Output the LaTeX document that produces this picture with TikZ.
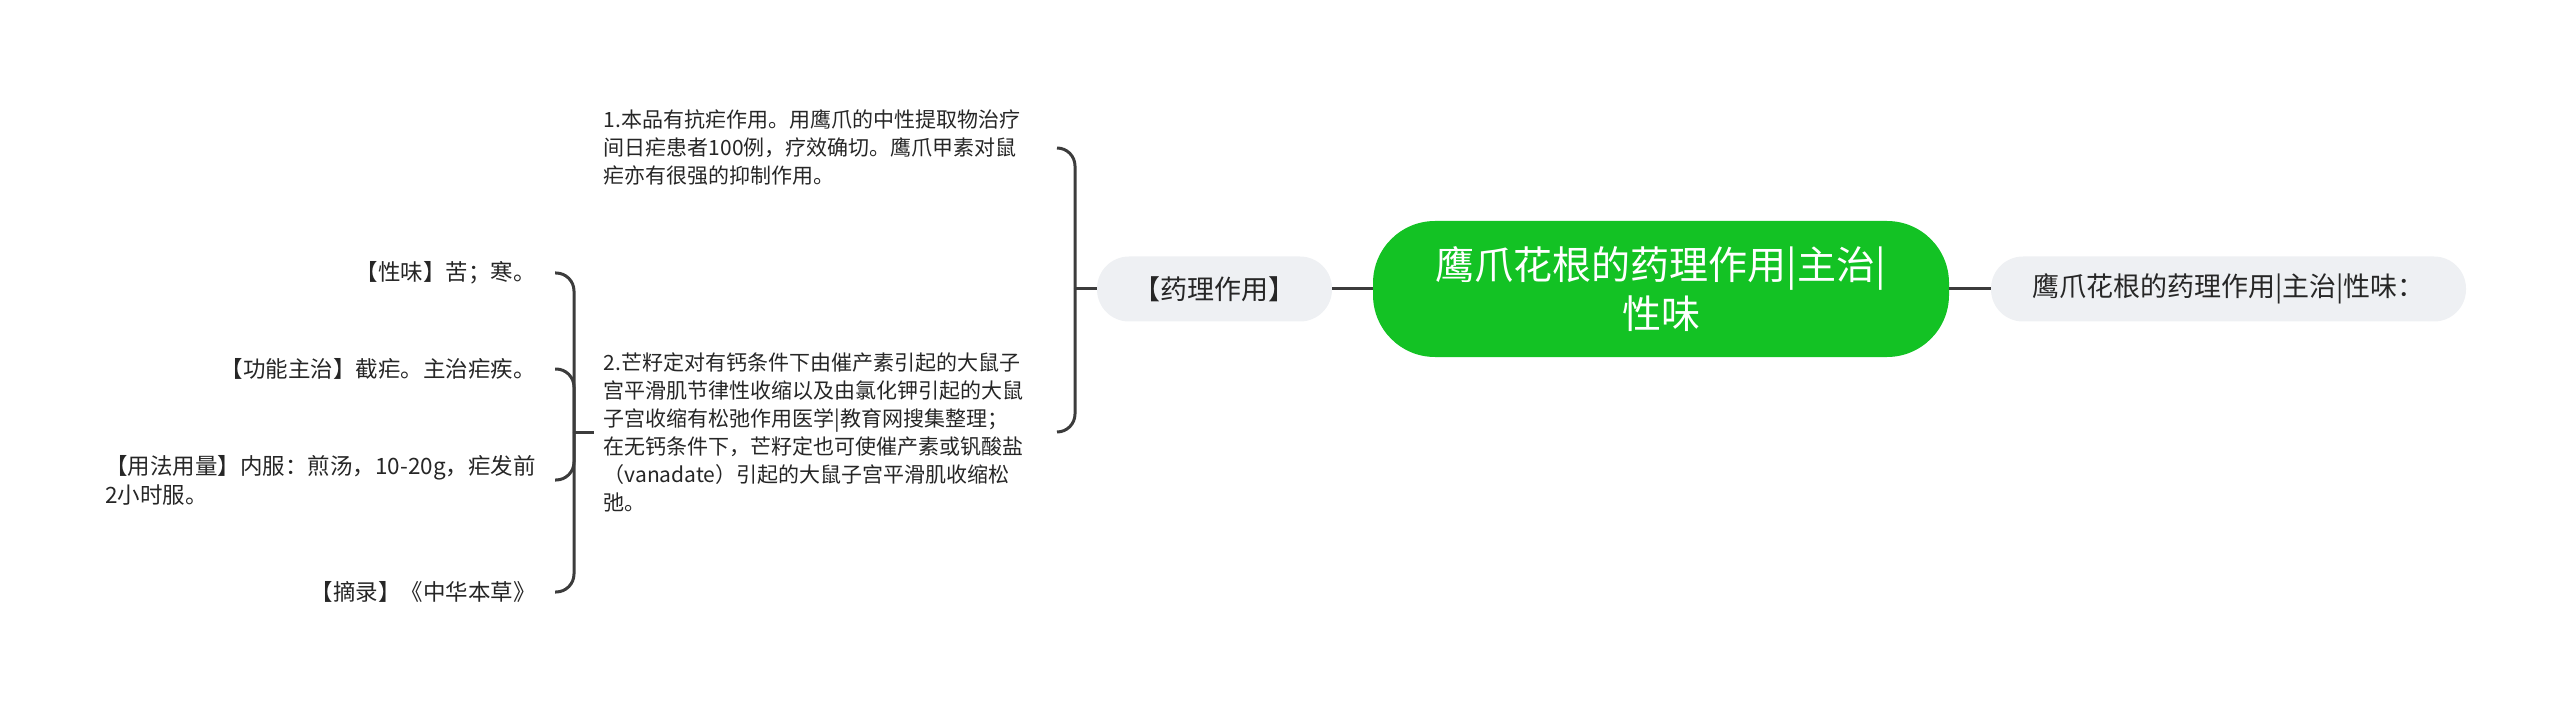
\documentclass[tikz,border=0pt]{standalone}
\usepackage{fontspec}
\setmainfont{Noto Sans CJK SC}
\usepackage{tikz}
\usetikzlibrary{positioning}
\definecolor{rootgreen}{HTML}{13C224}
\definecolor{topicgray}{HTML}{EEF0F3}
\definecolor{linegray}{HTML}{3C3C3C}
\definecolor{textdark}{HTML}{262626}

\begin{document}
\begin{tikzpicture}[x=1pt, y=-1pt,
    root/.style={fill=rootgreen, rounded corners=62pt,
      minimum width=576pt, minimum height=136pt,
      align=center, text=white, font=\fontsize{39pt}{49pt}\selectfont},
    topic/.style={fill=topicgray, rounded corners=32pt,
      minimum height=65pt, text=textdark,
      font=\fontsize{27pt}{34pt}\selectfont},
    para/.style={text width=443pt, inner xsep=10pt, align=left,
      text=textdark, font=\fontsize{21pt}{28pt}\selectfont},
    leaf/.style={inner xsep=19pt, align=left, anchor=east,
      text=textdark, font=\fontsize{22.5pt}{29pt}\selectfont},
    conn/.style={draw=linegray, line width=3pt},
    brace/.style={conn, rounded corners=18pt}]
  \useasboundingbox (0,0) rectangle (2560,711);
  % === Centre and first level ===
  \node[root] (root) at (1661,289) {鹰爪花根的药理作用|主治|\\性味};
  \node[topic, minimum width=235pt] (yaoli) at (1214.5,289) {【药理作用】};
  \node[topic, minimum width=475pt] (xingwei) at (2228.5,289) {鹰爪花根的药理作用|主治|性味：};
  \draw[conn] (yaoli.east) -- (root.west);
  \draw[conn] (root.east) -- (xingwei.west);
  % === Pharmacology texts ===
  \node[para, anchor=east] (p1) at (1057,148)
    {1.本品有抗疟作用。用鹰爪的中性提取物治疗\\间日疟患者100例，疗效确切。鹰爪甲素对鼠\\疟亦有很强的抑制作用。};
  \node[para, anchor=east] (p2) at (1057,432)
    {2.芒籽定对有钙条件下由催产素引起的大鼠子\\宫平滑肌节律性收缩以及由氯化钾引起的大鼠\\子宫收缩有松弛作用医学|教育网搜集整理；\\在无钙条件下，芒籽定也可使催产素或钒酸盐\\（vanadate）引起的大鼠子宫平滑肌收缩松\\弛。};
  \coordinate (hubA) at (1075,289);
  \draw[conn] (yaoli.west) -- (hubA);
  \draw[brace] (hubA) |- (p1.east);
  \draw[brace] (hubA) |- (p2.east);
  % === Leaves under text 2 ===
  \node[leaf] (i1) at (555,273) {【性味】苦；寒。};
  \node[leaf] (i2) at (555,369) {【功能主治】截疟。主治疟疾。};
  \node[leaf] (i3) at (555,480) {【用法用量】内服：煎汤，10-20g，疟发前\\2小时服。};
  \node[leaf] (i4) at (555,592) {【摘录】《中华本草》};
  \coordinate (hubB) at (574,432);
  \draw[conn] (p2.west) -- (hubB);
  \foreach \n in {i1,i2,i3,i4}
    \draw[brace] (hubB) |- (\n.east);
\end{tikzpicture}
\end{document}
